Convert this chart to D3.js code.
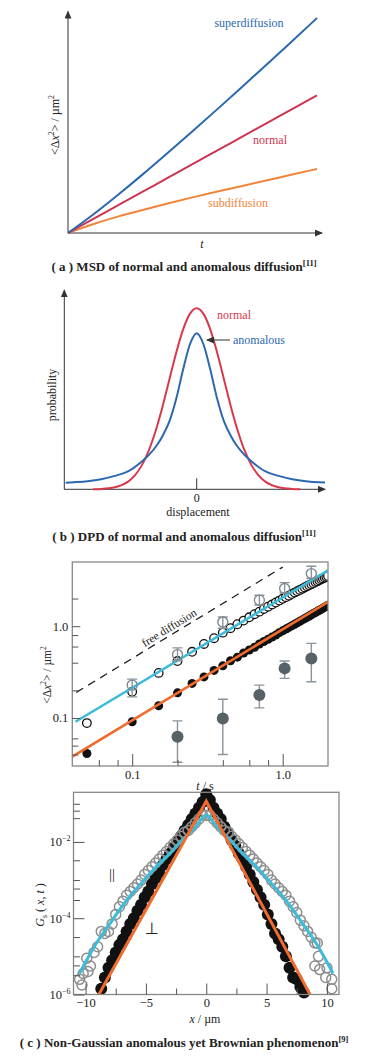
<!DOCTYPE html>
<html>
<head>
<meta charset="utf-8">
<script src="https://cdn.jsdelivr.net/npm/d3@7"></script>
<style>
  body { margin: 0; background: #fff; }
  svg text { font-family: "Liberation Serif", "DejaVu Serif", serif; fill: #222; }
</style>
</head>
<body>
<script>
// ---- (a) MSD curves, t in arbitrary units
var msdT      = [0, 0.1, 0.2, 0.3, 0.4, 0.5, 0.6, 0.7, 0.8, 0.9, 1.0];
var msdSuper  = [0, 0.083, 0.176, 0.272, 0.372, 0.473, 0.576, 0.68, 0.786, 0.892, 1.0];
var msdNormal = [0, 0.064, 0.128, 0.192, 0.256, 0.32, 0.384, 0.448, 0.512, 0.576, 0.64];
var msdSub    = [0, 0.042, 0.077, 0.107, 0.137, 0.166, 0.193, 0.219, 0.245, 0.272, 0.298];

// ---- (b) displacement distributions
var normalX = [-3.8, -3.5, -3, -2.75, -2.5, -2.25, -2, -1.75, -1.5, -1.25, -1, -0.75, -0.5, -0.25, 0,
               0.25, 0.5, 0.75, 1, 1.25, 1.5, 1.75, 2, 2.25, 2.5, 2.75, 3, 3.5, 3.8];
var normalP = [0.0007, 0.002, 0.011, 0.023, 0.044, 0.08, 0.135, 0.216, 0.325, 0.458, 0.607, 0.755, 0.882, 0.969, 1,
               0.969, 0.882, 0.755, 0.607, 0.458, 0.325, 0.216, 0.135, 0.08, 0.044, 0.023, 0.011, 0.002, 0.0007];
var anomX = [-4.8, -4.5, -4, -3.5, -3, -2.5, -2, -1.75, -1.5, -1.25, -1, -0.75, -0.5, -0.25, 0,
             0.25, 0.5, 0.75, 1, 1.25, 1.5, 1.75, 2, 2.5, 3, 3.5, 4, 4.5, 4.7];
var anomP = [0.036, 0.039, 0.045, 0.056, 0.074, 0.1, 0.155, 0.19, 0.235, 0.295, 0.375, 0.5, 0.66, 0.8, 0.862,
             0.8, 0.66, 0.5, 0.375, 0.295, 0.235, 0.19, 0.155, 0.1, 0.074, 0.056, 0.045, 0.039, 0.038];

// ---- (c) MSD vs lag time (log-log)
var lagT = [0.05, 0.1, 0.15, 0.2, 0.25, 0.3, 0.35, 0.4, 0.45, 0.5, 0.55, 0.6, 0.65, 0.7, 0.75, 0.8, 0.85, 0.9, 0.95, 1.0,
            1.05, 1.1, 1.15, 1.2, 1.25, 1.3, 1.35, 1.4, 1.45, 1.5, 1.55, 1.6, 1.65, 1.7, 1.75, 1.8, 1.85, 1.9, 1.95, 2.0];
var msdPar = [0.088, 0.193, 0.31, 0.417, 0.526, 0.64, 0.74, 0.85, 0.95, 1.05, 1.15, 1.25, 1.35, 1.44, 1.54, 1.63, 1.72, 1.81, 1.9, 1.99,
              2.07, 2.15, 2.24, 2.32, 2.4, 2.48, 2.56, 2.64, 2.72, 2.79, 2.87, 2.94, 3.02, 3.09, 3.16, 3.24, 3.31, 3.38, 3.45, 3.52];
var msdPerp = [0.041, 0.091, 0.136, 0.188, 0.238, 0.28, 0.33, 0.37, 0.42, 0.46, 0.51, 0.55, 0.59, 0.64, 0.68, 0.72, 0.76, 0.8, 0.85, 0.89,
               0.93, 0.97, 1.01, 1.05, 1.09, 1.13, 1.17, 1.21, 1.25, 1.29, 1.33, 1.37, 1.41, 1.45, 1.49, 1.53, 1.57, 1.61, 1.65, 1.69];
var errParT  = [0.1, 0.2, 0.4, 0.7, 1.03, 1.55];
var errParM  = [0.228, 0.49, 1.11, 1.92, 2.57, 3.74];
var errParLo = [0.17, 0.42, 0.95, 1.7, 2.3, 3.3];
var errParHi = [0.265, 0.58, 1.26, 2.17, 2.98, 4.49];
var errPerpT  = [0.2, 0.4, 0.7, 1.03, 1.55];
var errPerpM  = [0.0626, 0.099, 0.178, 0.347, 0.445];
var errPerpLo = [0.033, 0.04, 0.129, 0.27, 0.248];
var errPerpHi = [0.093, 0.16, 0.228, 0.417, 0.65];
var fitParT = [0.042, 2.0],  fitParM = [0.091, 4.06];
var fitPerpT = [0.04, 2.0],  fitPerpM = [0.038, 1.84];
var freeT = [0.0425, 1.0],   freeM = [0.19, 4.4];

// ---- (d) van Hove functions
var perpX = [-8.7, -8.4, -8.1, -7.8, -7.5, -7.2, -6.9, -6.6, -6.3, -6.0, -5.7, -5.4, -5.1, -4.8, -4.5, -4.2, -3.9, -3.6, -3.3, -3.0,
             -2.7, -2.4, -2.1, -1.8, -1.5, -1.2, -0.9, -0.6, -0.3, 0, 0.3, 0.6, 0.9, 1.2, 1.5, 1.8, 2.1, 2.4, 2.7, 3.0,
             3.3, 3.6, 3.9, 4.2, 4.5, 4.8, 5.1, 5.4, 5.7, 6.0, 6.3, 6.6, 6.9, 7.2, 7.5, 7.8, 8.1];
var perpG = [1.41e-6, 2.8e-6, 5.0e-6, 7.9e-6, 1.26e-5, 2.0e-5, 2.8e-5, 4.5e-5, 7.1e-5, 1.0e-4, 1.58e-4, 2.24e-4, 3.55e-4, 5.0e-4, 7.9e-4,
             1.12e-3, 1.58e-3, 2.5e-3, 3.55e-3, 5.0e-3, 7.1e-3, 1.0e-2, 1.41e-2, 2.0e-2, 2.8e-2, 4.0e-2, 5.6e-2, 7.9e-2, 0.112, 0.178,
             0.126, 0.079, 0.056, 0.04, 0.025, 0.0178, 0.0112, 7.9e-3, 5.0e-3, 3.55e-3, 2.24e-3, 1.41e-3, 8.9e-4, 5.6e-4, 3.55e-4,
             2.24e-4, 1.26e-4, 7.1e-5, 4.0e-5, 2.8e-5, 1.78e-5, 1.0e-5, 5.0e-6, 2.8e-6, 2.5e-6, 1.58e-6, 1.12e-6];
var parX = [-10.5, -10.3, -10.2, -9.9, -9.8, -9.6, -9.3, -9.0, -8.7, -8.4, -8.1, -7.8, -7.5, -7.2, -6.9, -6.6, -6.3, -6.0, -5.7, -5.4,
            -5.1, -4.8, -4.5, -4.2, -3.9, -3.6, -3.3, -3.0, -2.7, -2.4, -2.1, -1.8, -1.5, -1.2, -0.9, -0.6, -0.3, 0,
            0.3, 0.6, 0.9, 1.2, 1.5, 1.8, 2.1, 2.4, 2.7, 3.0, 3.3, 3.6, 3.9, 4.2, 4.5, 4.8, 5.1, 5.4, 5.7, 6.0, 6.3, 6.6,
            6.9, 7.2, 7.5, 7.8, 8.1, 8.4, 8.7, 9.0, 9.2, 9.0, 9.3, 9.4, 10.0, 9.9, 10.4, 10.4];
var parG = [2.5e-6, 1.78e-6, 3.55e-6, 8.9e-6, 4.0e-6, 5.6e-6, 1.26e-5, 1.78e-5, 4.5e-5, 4.0e-5, 4.5e-5, 7.1e-5, 1.26e-4, 2.0e-4,
            2.8e-4, 4.0e-4, 5.0e-4, 6.3e-4, 7.9e-4, 1.0e-3, 1.41e-3, 1.78e-3, 2.24e-3, 2.8e-3, 3.55e-3, 4.5e-3, 5.6e-3, 7.1e-3,
            8.9e-3, 1.12e-2, 1.41e-2, 1.78e-2, 2.0e-2, 2.5e-2, 3.16e-2, 4.0e-2, 5.0e-2, 5.0e-2,
            5.0e-2, 4.0e-2, 3.16e-2, 2.5e-2, 2.0e-2, 1.78e-2, 1.41e-2, 1.12e-2, 8.9e-3, 7.1e-3, 5.6e-3, 4.5e-3, 3.55e-3, 2.8e-3,
            2.24e-3, 1.78e-3, 1.41e-3, 1.0e-3, 7.9e-4, 6.3e-4, 5.0e-4, 4.0e-4, 2.8e-4, 2.0e-4, 1.41e-4, 8.9e-5, 6.3e-5, 4.5e-5,
            3.16e-5, 2.24e-5, 2.24e-5, 5.6e-6, 1.0e-5, 4.5e-6, 5.0e-6, 2.8e-6, 2.5e-6, 1.41e-6];
var cyanX = [-10.5, -10, -9, -8, -7, -6, -5, -4, -3, -2, -1, 0, 1, 2, 3, 4, 5, 6, 7, 8, 9, 10, 10.5];
var cyanG = [3.55e-6, 7.1e-6, 2.5e-5, 7.1e-5, 2.0e-4, 5.0e-4, 1.12e-3, 2.5e-3, 5.0e-3, 1.12e-2, 2.24e-2, 5.0e-2,
             2.24e-2, 1.12e-2, 5.0e-3, 2.5e-3, 1.12e-3, 5.0e-4, 2.0e-4, 7.1e-5, 2.5e-5, 7.1e-6, 3.55e-6];
var orangeX = [-8.9, 0, 8.6];
var orangeG = [1e-6, 0.117, 1e-6];

var cBlue = "#2c68b0", cRed = "#cc3550", cOrange = "#f0843a";
var cCyan = "#3dbcd9", cOr2 = "#f06b2c";

var svg = d3.select("body").append("svg").attr("width", 369).attr("height", 1058);
var defs = svg.append("defs");
defs.append("marker")
    .attr("id", "arrow")
    .attr("markerUnits", "userSpaceOnUse")
    .attr("markerWidth", 8).attr("markerHeight", 7)
    .attr("refX", 7).attr("refY", 3.5)
    .attr("orient", "auto")
  .append("path").attr("d", "M0,0 L8,3.5 L0,7 z").attr("fill", "#333");

function caption(y, letter, body, ref) {
  var t = svg.append("text").attr("x", 184).attr("y", y)
      .attr("text-anchor", "middle").attr("font-size", 13).attr("font-weight", "bold");
  t.append("tspan").text("( " + letter + " ) " + body);
  t.append("tspan").attr("dy", -5).attr("font-size", 8.5).text("[" + ref + "]");
}

function msdLabel(g, x, y, size) {
  var t = g.append("text")
      .attr("transform", "translate(" + x + "," + y + ") rotate(-90)")
      .attr("text-anchor", "middle").attr("font-size", size);
  t.append("tspan").text("<Δ");
  t.append("tspan").attr("font-style", "italic").text("x");
  t.append("tspan").attr("font-size", size * 0.65).attr("dy", -5).text("2");
  t.append("tspan").attr("dy", 5).text("> / µm");
  t.append("tspan").attr("font-size", size * 0.65).attr("dy", -5).text("2");
}

// ================= (a)
var xA = d3.scaleLinear().domain([0, 1]).range([68, 317]);
var yA = d3.scaleLinear().domain([0, 1]).range([233, 18]);
var gA = svg.append("g");
gA.append("line").attr("x1", xA(0)).attr("y1", yA(0)).attr("x2", xA(0)).attr("y2", yA(1.03))
  .attr("stroke", "#333").attr("marker-end", "url(#arrow)");
gA.append("line").attr("x1", xA(0)).attr("y1", yA(0)).attr("x2", xA(1.02)).attr("y2", yA(0))
  .attr("stroke", "#333").attr("marker-end", "url(#arrow)");

[[msdSub, cOrange], [msdNormal, cRed], [msdSuper, cBlue]].forEach(function(s) {
  var line = d3.line()
      .x(function(d, i) { return xA(msdT[i]); })
      .y(function(d) { return yA(d); })
      .curve(d3.curveBasis);
  gA.append("path").datum(s[0]).attr("d", line)
    .attr("fill", "none").attr("stroke", s[1]).attr("stroke-width", 2);
});
gA.append("text").attr("x", 249).attr("y", 27).attr("text-anchor", "middle").attr("font-size", 12)
  .style("fill", cBlue).text("superdiffusion");
gA.append("text").attr("x", 270).attr("y", 144).attr("text-anchor", "middle").attr("font-size", 12)
  .style("fill", cRed).text("normal");
gA.append("text").attr("x", 238).attr("y", 207).attr("text-anchor", "middle").attr("font-size", 12)
  .style("fill", cOrange).text("subdiffusion");
gA.append("text").attr("x", 202).attr("y", 248).attr("text-anchor", "middle").attr("font-size", 12)
  .attr("font-style", "italic").text("t");
msdLabel(gA, 59, 125, 12);
caption(271, "a", "MSD of normal and anomalous diffusion", "11");

// ================= (b)
var xB = d3.scaleLinear().domain([-4.85, 4.7]).range([64.3, 325]);
var yB = d3.scaleLinear().domain([0, 1]).range([489.3, 308.3]);
var gB = svg.append("g");
gB.append("line").attr("x1", xB(-4.85)).attr("y1", yB(0)).attr("x2", xB(-4.85)).attr("y2", yB(1.1))
  .attr("stroke", "#333").attr("marker-end", "url(#arrow)");
gB.append("line").attr("x1", xB(-4.85)).attr("y1", yB(0)).attr("x2", xB(4.7)).attr("y2", yB(0))
  .attr("stroke", "#333").attr("marker-end", "url(#arrow)");
gB.append("line").attr("x1", xB(0)).attr("x2", xB(0)).attr("y1", yB(0)).attr("y2", yB(0) - 11)
  .attr("stroke", "#333");

var lineB = function(xs) {
  return d3.line()
      .x(function(d, i) { return xB(xs[i]); })
      .y(function(d) { return yB(d); })
      .curve(d3.curveMonotoneX);
};
gB.append("path").datum(normalP).attr("d", lineB(normalX))
  .attr("fill", "none").attr("stroke", "#d83a4c").attr("stroke-width", 2);
gB.append("path").datum(anomP).attr("d", lineB(anomX))
  .attr("fill", "none").attr("stroke", cBlue).attr("stroke-width", 2);

gB.append("text").attr("x", 234).attr("y", 319).attr("text-anchor", "middle").attr("font-size", 12)
  .style("fill", "#d83a4c").text("normal");
gB.append("text").attr("x", 259).attr("y", 344).attr("text-anchor", "middle").attr("font-size", 12)
  .style("fill", cBlue).text("anomalous");
gB.append("line").attr("x1", 230).attr("y1", 340).attr("x2", 207).attr("y2", 340)
  .attr("stroke", "#333").attr("marker-end", "url(#arrow)");
gB.append("text").attr("x", xB(0)).attr("y", 502).attr("text-anchor", "middle").attr("font-size", 12).text("0");
gB.append("text").attr("x", 198).attr("y", 516).attr("text-anchor", "middle").attr("font-size", 12).text("displacement");
gB.append("text").attr("transform", "translate(56,395) rotate(-90)")
  .attr("text-anchor", "middle").attr("font-size", 12).text("probability");
caption(541, "b", "DPD of normal and anomalous diffusion", "11");

function styleAxis(g) {
  g.select(".domain").remove();
  g.selectAll(".tick line").attr("stroke", "#555");
  g.selectAll(".tick text")
    .attr("font-family", "Liberation Serif, DejaVu Serif, serif")
    .attr("font-size", 12.5).attr("fill", "#222");
}

// ================= (c)
var xC = d3.scaleLog().domain([0.04, 2]).range([72.3, 328]);
var yC = d3.scaleLog().domain([0.03, 5]).range([766, 562]);
var gC = svg.append("g");
defs.append("clipPath").attr("id", "clipC").append("rect")
  .attr("x", 72.3).attr("y", 562).attr("width", 328 - 72.3).attr("height", 766 - 562);
var dataC = gC.append("g").attr("clip-path", "url(#clipC)");

var fitLine = function(ts) {
  return d3.line().x(function(d, i) { return xC(ts[i]); }).y(function(d) { return yC(d); });
};
dataC.append("path").datum(freeM).attr("d", fitLine(freeT))
  .attr("fill", "none").attr("stroke", "#222").attr("stroke-width", 1.3).attr("stroke-dasharray", "8,6");

dataC.selectAll(".openC").data(msdPar).enter().append("circle")
  .attr("cx", function(d, i) { return xC(lagT[i]); })
  .attr("cy", function(d) { return yC(d); })
  .attr("r", 4.3).attr("fill", "#fff").attr("stroke", "#111").attr("stroke-width", 1.3);
dataC.selectAll(".fillC").data(msdPerp).enter().append("circle")
  .attr("cx", function(d, i) { return xC(lagT[i]); })
  .attr("cy", function(d) { return yC(d); })
  .attr("r", 4.5).attr("fill", "#111");

dataC.append("path").datum(fitParM).attr("d", fitLine(fitParT))
  .attr("fill", "none").attr("stroke", cCyan).attr("stroke-width", 2.6);
dataC.append("path").datum(fitPerpM).attr("d", fitLine(fitPerpT))
  .attr("fill", "none").attr("stroke", cOr2).attr("stroke-width", 2.6);

function errorBars(g, ts, lo, hi, color) {
  g.selectAll(null).data(ts).enter().append("g").each(function(t, i) {
    var e = d3.select(this), x = xC(t);
    e.append("line").attr("x1", x).attr("x2", x).attr("y1", yC(lo[i])).attr("y2", yC(hi[i]));
    e.append("line").attr("x1", x - 5).attr("x2", x + 5).attr("y1", yC(lo[i])).attr("y2", yC(lo[i]));
    e.append("line").attr("x1", x - 5).attr("x2", x + 5).attr("y1", yC(hi[i])).attr("y2", yC(hi[i]));
    e.selectAll("line").attr("stroke", color).attr("stroke-width", 1.4);
  });
}
errorBars(dataC, errParT, errParLo, errParHi, "#8a939a");
dataC.selectAll(".errParPt").data(errParM).enter().append("circle")
  .attr("cx", function(d, i) { return xC(errParT[i]); })
  .attr("cy", function(d) { return yC(d); })
  .attr("r", 5).attr("fill", "none").attr("stroke", "#7f8990").attr("stroke-width", 1.4);
errorBars(dataC, errPerpT, errPerpLo, errPerpHi, "#8a939a");
dataC.selectAll(".errPerpPt").data(errPerpM).enter().append("circle")
  .attr("cx", function(d, i) { return xC(errPerpT[i]); })
  .attr("cy", function(d) { return yC(d); })
  .attr("r", 6).attr("fill", "#566168");

gC.append("rect").attr("x", 72.3).attr("y", 562).attr("width", 328 - 72.3).attr("height", 766 - 562)
  .attr("fill", "none").attr("stroke", "#888").attr("stroke-width", 1.3);

var yCmaj = gC.append("g").attr("transform", "translate(72.3,0)")
  .call(d3.axisLeft(yC).tickValues([0.1, 1]).tickFormat(d3.format(".1f")).tickSize(-8).tickPadding(4));
styleAxis(yCmaj);
var yCmin = gC.append("g").attr("transform", "translate(72.3,0)")
  .call(d3.axisLeft(yC).tickValues([0.04, 0.05, 0.06, 0.2, 0.4, 0.6, 0.8, 2]).tickFormat("").tickSize(-6));
styleAxis(yCmin);
var xCmaj = gC.append("g").attr("transform", "translate(0,766)")
  .call(d3.axisBottom(xC).tickValues([0.1, 1]).tickFormat(d3.format(".1f")).tickSize(-12).tickPadding(4));
styleAxis(xCmaj);
var xCmin = gC.append("g").attr("transform", "translate(0,766)")
  .call(d3.axisBottom(xC).tickValues([0.06, 0.08, 0.2, 0.4, 0.6, 0.8]).tickFormat("").tickSize(-6));
styleAxis(xCmin);

gC.append("text").attr("transform", "translate(169,627.5) rotate(-31.5)")
  .attr("text-anchor", "middle").attr("dy", "0.35em").attr("font-size", 11.5).text("free diffusion");
msdLabel(gC, 51, 675, 11.5);
var ts = gC.append("text").attr("x", 205).attr("y", 790).attr("text-anchor", "middle").attr("font-size", 12);
ts.append("tspan").attr("font-style", "italic").text("t");
ts.append("tspan").text(" / s");

// ================= (d)
var xD = d3.scaleLinear().domain([-11, 11]).range([73.5, 339]);
var yD = d3.scaleLog().domain([1e-6, 0.2]).range([994.5, 792.3]);
var gD = svg.append("g");
defs.append("clipPath").attr("id", "clipD").append("rect")
  .attr("x", 73.5).attr("y", 780).attr("width", 339 - 73.5).attr("height", 994.5 - 780);
var dataD = gD.append("g");

dataD.selectAll(".perp").data(perpG).enter().append("circle")
  .attr("cx", function(d, i) { return xD(perpX[i]); })
  .attr("cy", function(d) { return yD(d); })
  .attr("r", 6).attr("fill", "#111");
dataD.selectAll(".par").data(parG).enter().append("circle")
  .attr("cx", function(d, i) { return xD(parX[i]); })
  .attr("cy", function(d) { return yD(d); })
  .attr("r", 5).attr("fill", "none").attr("stroke", "#8e8e8e").attr("stroke-width", 1.5);

var lineD = function(xs, curve) {
  return d3.line().x(function(d, i) { return xD(xs[i]); }).y(function(d) { return yD(d); })
      .curve(curve);
};
dataD.append("path").datum(cyanG).attr("d", lineD(cyanX, d3.curveMonotoneX)).attr("clip-path", "url(#clipD)")
  .attr("fill", "none").attr("stroke", cCyan).attr("stroke-width", 3);
dataD.append("path").datum(orangeG).attr("d", lineD(orangeX, d3.curveLinear)).attr("clip-path", "url(#clipD)")
  .attr("fill", "none").attr("stroke", cOr2).attr("stroke-width", 3);

gD.append("rect").attr("x", 73.5).attr("y", 792.3).attr("width", 339 - 73.5).attr("height", 994.5 - 792.3)
  .attr("fill", "none").attr("stroke", "#888").attr("stroke-width", 1.3);

var yDmaj = gD.append("g").attr("transform", "translate(73.5,0)")
  .call(d3.axisLeft(yD).tickValues([1e-2, 1e-4, 1e-6]).tickSize(-11).tickPadding(3));
styleAxis(yDmaj);
yDmaj.selectAll(".tick text").each(function(d) {
  var t = d3.select(this).text("10");
  t.append("tspan").attr("dy", -5).attr("font-size", 8).text("−" + Math.round(-Math.log10(d)));
});
var yDmin = gD.append("g").attr("transform", "translate(73.5,0)")
  .call(d3.axisLeft(yD).tickValues([0.1, 0.066, 0.042, 3.3e-3, 1e-3, 6e-4, 3e-4, 3.2e-5, 1e-5, 5.8e-6, 3.2e-6])
    .tickFormat("").tickSize(-6.5));
styleAxis(yDmin);
var xDmaj = gD.append("g").attr("transform", "translate(0,994.5)")
  .call(d3.axisBottom(xD).tickValues([-10, -5, 0, 5, 10]).tickSize(-11).tickPadding(4));
styleAxis(xDmaj);
var xDmin = gD.append("g").attr("transform", "translate(0,994.5)")
  .call(d3.axisBottom(xD).tickValues([-7.5, -2.5, 2.5, 7.5]).tickFormat("").tickSize(-6));
styleAxis(xDmin);

gD.append("text").attr("x", 112).attr("y", 879).attr("text-anchor", "middle").attr("font-size", 15).text("||");
gD.append("text").attr("x", 152).attr("y", 934).attr("text-anchor", "middle")
  .attr("font-size", 16).style("font-family", "DejaVu Sans").text("⊥");
var gl = gD.append("text").attr("transform", "translate(44,905) rotate(-90)")
  .attr("text-anchor", "middle").attr("font-size", 12);
gl.append("tspan").attr("font-style", "italic").text("G");
gl.append("tspan").attr("font-size", 8).attr("dy", 3).text("s");
gl.append("tspan").attr("dy", -3).text(" ( ");
gl.append("tspan").attr("font-style", "italic").text("x");
gl.append("tspan").text(", ");
gl.append("tspan").attr("font-style", "italic").text("t");
gl.append("tspan").text(" )");
var xl = gD.append("text").attr("x", 205).attr("y", 1023).attr("text-anchor", "middle").attr("font-size", 12);
xl.append("tspan").attr("font-style", "italic").text("x");
xl.append("tspan").text(" / µm");
caption(1047, "c", "Non-Gaussian anomalous yet Brownian phenomenon", "9");
</script>
</body>
</html>
